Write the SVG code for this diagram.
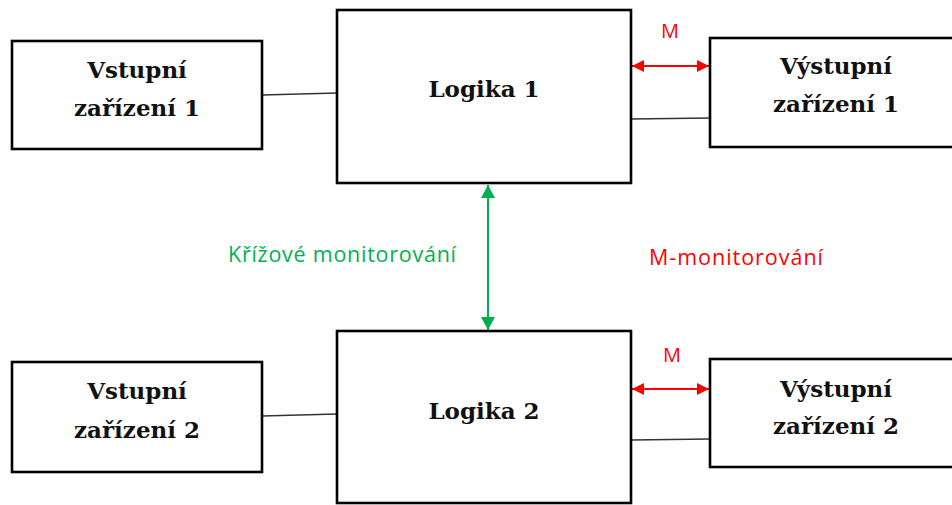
<svg xmlns="http://www.w3.org/2000/svg" width="952" height="505" viewBox="0 0 952 505">
  <defs>
    <style>
      .box { fill: #ffffff; stroke: #000000; stroke-width: 2.6; }
      .lbl { font-family: "DejaVu Serif", "Liberation Serif", serif; font-weight: bold; font-size: 23px; fill: #111111; text-anchor: middle; }
      .wire { stroke: #333333; stroke-width: 1.5; fill: none; }
      .mon { stroke: #ff0000; stroke-width: 2; fill: none; marker-start: url(#redHead); marker-end: url(#redHead); }
      .cross { stroke: #00b050; stroke-width: 2; fill: none; marker-start: url(#greenHead); marker-end: url(#greenHead); }
      .note { font-family: "Open Sans", "Noto Sans", sans-serif; }
    </style>
    <marker id="redHead" viewBox="0 0 12 12" refX="12" refY="6" markerWidth="12" markerHeight="12" markerUnits="userSpaceOnUse" orient="auto-start-reverse">
      <path d="M0,0 L12,6 L0,12 Z" fill="#ff0000"/>
    </marker>
    <marker id="greenHead" viewBox="0 0 13 14" refX="13" refY="7" markerWidth="13" markerHeight="14" markerUnits="userSpaceOnUse" orient="auto-start-reverse">
      <path d="M0,0 L13,7 L0,14 Z" fill="#00b050"/>
    </marker>
  </defs>

  <rect width="952" height="505" fill="#ffffff"/>

  <!-- connectors -->
  <g id="connectors">
    <line class="wire" x1="262" y1="95" x2="337" y2="93"/>
    <line class="wire" x1="631" y1="119" x2="710" y2="118"/>
    <line class="wire" x1="262" y1="416" x2="337" y2="414"/>
    <line class="wire" x1="631" y1="440" x2="710" y2="439"/>
    <line class="mon" x1="632" y1="66" x2="709" y2="66"/>
    <line class="mon" x1="632" y1="389" x2="709" y2="389"/>
    <line class="cross" x1="488" y1="185" x2="488" y2="330"/>
  </g>

  <!-- upper channel -->
  <g id="vstupni-1">
    <rect class="box" x="12" y="41" width="250" height="108"/>
    <text class="lbl" x="137" y="78">Vstupní</text>
    <text class="lbl" x="137" y="116">zařízení 1</text>
  </g>
  <g id="logika-1">
    <rect class="box" x="337" y="10" width="294" height="173"/>
    <text class="lbl" x="484" y="97">Logika 1</text>
  </g>
  <g id="vystupni-1">
    <rect class="box" x="710" y="38" width="260" height="109"/>
    <text class="lbl" x="836" y="74">Výstupní</text>
    <text class="lbl" x="836" y="112">zařízení 1</text>
  </g>

  <!-- lower channel -->
  <g id="vstupni-2">
    <rect class="box" x="12" y="362" width="250" height="110"/>
    <text class="lbl" x="137" y="399">Vstupní</text>
    <text class="lbl" x="137" y="438">zařízení 2</text>
  </g>
  <g id="logika-2">
    <rect class="box" x="337" y="331" width="294" height="172"/>
    <text class="lbl" x="484" y="419">Logika 2</text>
  </g>
  <g id="vystupni-2">
    <rect class="box" x="710" y="359" width="260" height="108"/>
    <text class="lbl" x="836" y="397">Výstupní</text>
    <text class="lbl" x="836" y="434">zařízení 2</text>
  </g>

  <!-- monitoring labels -->
  <g id="labels" class="note">
    <text x="670" y="38" font-size="20" fill="#ff0000" text-anchor="middle">M</text>
    <text x="672" y="362" font-size="20" fill="#ff0000" text-anchor="middle">M</text>
    <text x="228" y="262" font-size="21.5" fill="#00b050" textLength="228" lengthAdjust="spacing">Křížové monitorování</text>
    <text x="649" y="265" font-size="21.5" fill="#ff0000" textLength="174" lengthAdjust="spacing">M-monitorování</text>
  </g>
</svg>
